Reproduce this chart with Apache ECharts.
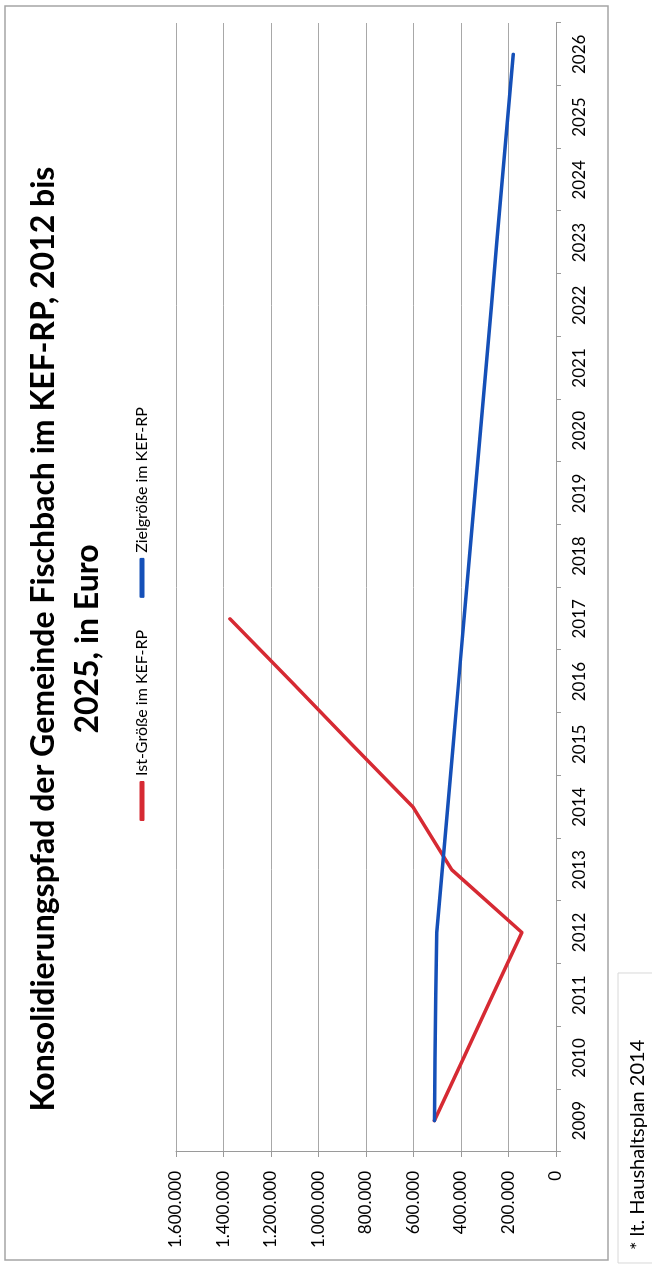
<!DOCTYPE html>
<html>
<head>
<meta charset="utf-8">
<script src="https://cdn.jsdelivr.net/npm/echarts@6/dist/echarts.min.js"></script>
<style>
  html, body { margin: 0; padding: 0; background: #ffffff; width: 652px; height: 1268px; overflow: hidden; }
  #chart {
    position: absolute; left: 0; top: 0;
    width: 1268px; height: 652px;
    transform-origin: 0 0;
    transform: translate(0px, 1268px) rotate(-90deg);
  }
</style>
</head>
<body>
<div id="chart"></div>
<script>
// ---- data ----
const years = ['2009','2010','2011','2012','2013','2014','2015','2016','2017',
               '2018','2019','2020','2021','2022','2023','2024','2025','2026'];
const istValues  = [512000, 389000, 267000, 144000, 439000, 602000, 860000, 1115000, 1373000,
                    null, null, null, null, null, null, null, null, null];
const zielValues = [512000, 509000, 506000, 502000, 479000, 456000, 433000, 410000, 387000,
                    364000, 341000, 318000, 295000, 272000, 249000, 226000, 203000, 180000];
const seriesNames = ['Ist-Größe im KEF-RP', 'Zielgröße im KEF-RP'];
const titleText = 'Konsolidierungspfad der Gemeinde Fischbach im KEF-RP, 2012 bis\n2025, in Euro';
const footnoteText = '* lt. Haushaltsplan 2014';

const FONT = 'Lato, "Open Sans", sans-serif';
function deNum(v) { return String(v).replace(/\B(?=(\d{3})+(?!\d))/g, '.'); }

const chart = echarts.init(document.getElementById('chart'), null, { renderer: 'canvas' });
chart.setOption({
  animation: false,
  backgroundColor: '#ffffff',
  title: {
    text: titleText,
    left: 624, top: 17, textAlign: 'center',
    textStyle: { fontFamily: FONT, fontWeight: 'bold', fontSize: 32, lineHeight: 44, color: '#000000' }
  },
  legend: {
    left: 442, top: 129,
    itemWidth: 40, itemHeight: 5, itemGap: 32,
    icon: 'roundRect',
    textStyle: { fontFamily: FONT, fontSize: 16, color: '#000000' },
    data: seriesNames
  },
  grid: { left: 116, right: 23, top: 176, bottom: 96, containLabel: false },
  xAxis: {
    type: 'category',
    data: years,
    boundaryGap: true,
    axisLine: { lineStyle: { color: '#9a9a9a', width: 1 } },
    axisTick: { show: true, length: 5, interval: 0, lineStyle: { color: '#9a9a9a' } },
    axisLabel: { interval: 0, margin: 15, fontFamily: FONT, fontSize: 17, color: '#000000' }
  },
  yAxis: {
    type: 'value',
    min: 0, max: 1600000, interval: 200000,
    axisLine: { show: true, lineStyle: { color: '#9a9a9a', width: 1 } },
    axisTick: { show: true, length: 5, lineStyle: { color: '#9a9a9a' } },
    splitLine: { show: true, lineStyle: { color: '#a8a8a8', width: 1 } },
    axisLabel: { margin: 19, fontFamily: FONT, fontSize: 17, color: '#000000', formatter: deNum }
  },
  series: [
    {
      name: seriesNames[0], type: 'line', data: istValues,
      symbol: 'none', showSymbol: false, connectNulls: false,
      lineStyle: { color: '#d62a33', width: 3.5, join: 'round', cap: 'round' },
      itemStyle: { color: '#d62a33' }
    },
    {
      name: seriesNames[1], type: 'line', data: zielValues,
      symbol: 'none', showSymbol: false,
      lineStyle: { color: '#1550b8', width: 3.5, join: 'round', cap: 'round' },
      itemStyle: { color: '#1550b8' }
    }
  ],
  graphic: [
    {
      type: 'rect', silent: true,
      shape: { x: 8, y: 5, width: 1254, height: 603 },
      style: { fill: 'none', stroke: '#a5a5a5', lineWidth: 1.5 }
    },
    {
      type: 'rect', silent: true,
      shape: { x: 5, y: 618, width: 290, height: 60 },
      style: { fill: 'none', stroke: '#d8d8d8', lineWidth: 1 }
    },
    {
      type: 'text', silent: true,
      x: 18, y: 638,
      style: { text: footnoteText, fontFamily: FONT, fontSize: 20, fill: '#000000', verticalAlign: 'middle', align: 'left' }
    }
  ]
});
</script>
</body>
</html>
